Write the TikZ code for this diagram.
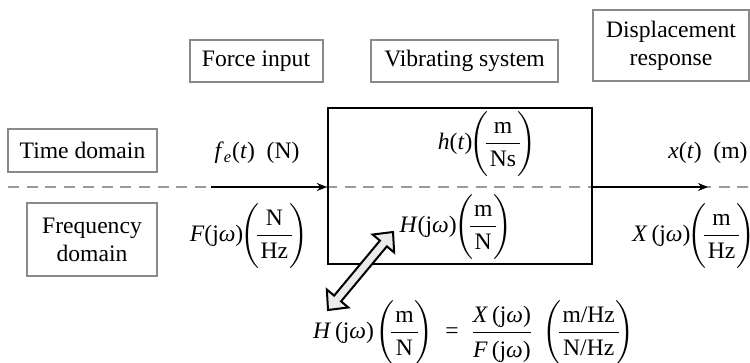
\documentclass[tikz,border=0pt]{standalone}
\usepackage{fontspec}
\usepackage{amsmath}
\usepackage{graphicx}
\setmainfont{Liberation Serif}
\usetikzlibrary{arrows.meta}
\newcommand{\lpar}{\mbox{\scalebox{1}[0.9]{$\Biggl($}}}
\newcommand{\rpar}{\mbox{\scalebox{1}[0.9]{$\Biggr)$}}}
\newcommand{\uf}[2]{$\mkern-2mu\lpar\mkern-4mu\dfrac{\mbox{\rmfamily\upshape\rule[-2pt]{0pt}{2pt}\,#1\,}}{\mbox{\rmfamily\upshape\rule{0pt}{10pt}\,#2\,}}\mkern-4mu\rpar$}
\newcommand{\om}{\textit{ω}}
\definecolor{boxgray}{HTML}{8A8A8A}
\definecolor{dashgray}{HTML}{9A9A9A}
\definecolor{arrowfill}{HTML}{EBEBEB}
\begin{document}
\begin{tikzpicture}[x=0.5pt,y=-0.5pt,
  font=\fontsize{11.8}{14}\selectfont,
  labbox/.style={draw=boxgray, line width=1pt, align=center, inner sep=0pt},
  sysbox/.style={draw=black, line width=1.1pt, inner sep=0pt, minimum width=132pt, minimum height=78pt},
  flow/.style={line width=1pt, -{Stealth[length=5pt,width=4pt]}},
  qty/.style={inner sep=0pt, align=center}]
\useasboundingbox (0,0) rectangle (750,363);
% dashed domain separator
\draw[dashgray, line width=1pt, dash pattern=on 5.5pt off 3.85pt] (8,187) -- (760,187);
% header boxes
\node[labbox, minimum width=66.5pt, minimum height=21pt] (force) at (256,61) {Force input};
\node[labbox, minimum width=93.5pt, minimum height=21pt] (vib) at (464.5,61) {Vibrating system};
\node[labbox, minimum width=78pt, minimum height=35.5pt] (disp) at (671,45.5) {Displacement\\response};
\node[labbox, minimum width=74.5pt, minimum height=21.5pt] (time) at (82.5,150.5) {Time domain};
\node[labbox, minimum width=65pt, minimum height=36.5pt] (freq) at (92,239.5) {Frequency\\domain};
% system box
\node[sysbox] (sys) at (460,186) {};
% flows
\coordinate (in) at (211,187);
\coordinate (out) at (708,187);
\draw[flow] (in) -- (in -| sys.west);
\draw[flow] (sys.east |- out) -- (out);
% quantities
\node[qty] (fe) at (257,153) {\textit{f}\textsubscript{\textit{e}}(\textit{t})~~(N)};
\node[qty] (ht) at (487,144) {\textit{h}(\textit{t})\uf{m}{Ns}};
\node[qty] (xt) at (708,153) {\textit{x}(\textit{t})~~(m)};
\node[qty] (Fw) at (249,236) {\textit{F}(j\om)\uf{N}{Hz}};
\node[qty] (Hw) at (456,227) {\textit{H}(j\om)\uf{m}{N}};
\node[qty, anchor=west] (Xw) at (632,236) {\textit{X}\,(j\om)\uf{m}{Hz}};
\node[qty] (eq) at (474,333) {\textit{H}\,(j\om)\,\uf{m}{N}~~=~~$\dfrac{\mbox{\rmfamily\rule[-3pt]{0pt}{3pt}\textit{X}\,(j\om)}}{\mbox{\rmfamily\rule{0pt}{11pt}\textit{F}\,(j\om)}}$~~\uf{m/Hz}{N/Hz}};
% double arrow
\draw[line width=1pt, fill=arrowfill, line join=miter]
  (328,310) -- (348.35,307.46) -- (341.06,301.38) -- (386.86,246.38) -- (394.15,252.46)
  -- (393,232) -- (372.65,234.54) -- (379.94,240.62) -- (334.14,295.62) -- (326.85,289.54) -- cycle;
\end{tikzpicture}
\end{document}
